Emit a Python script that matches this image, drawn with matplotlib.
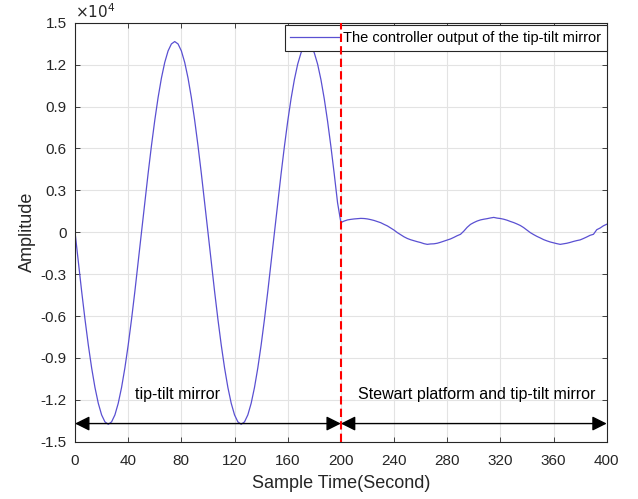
import numpy as np
import matplotlib.pyplot as plt
from matplotlib.ticker import FuncFormatter

plt.rcParams['font.family'] = ['Liberation Sans', 'DejaVu Sans']
plt.rcParams['axes.unicode_minus'] = False

# tip-tilt mirror only (0-200 s), read every 2.5 s
time_tt = np.arange(0, 200, 2.5)
amp_tt = [0, -2150, -4250, -6240, -8080, -9720, -11120, -12250, -13080, -13580, -13750,
          -13580, -13080, -12250, -11120, -9720, -8080, -6240, -4250, -2150, 0,
          2130, 4220, 6200, 8020, 9650, 11040, 12160, 12980, 13480, 13650,
          13480, 12980, 12160, 11040, 9650, 8020, 6200, 4220, 2130, 0,
          -2150, -4250, -6240, -8080, -9720, -11120, -12250, -13080, -13580, -13750,
          -13580, -13080, -12250, -11120, -9720, -8080, -6240, -4250, -2150, 0,
          2110, 4170, 6130, 7940, 9550, 10920, 12030, 12840, 13340, 13500,
          13340, 12840, 12030, 10920, 9550, 7940, 6130, 4170, 2110]

# Stewart platform + tip-tilt mirror (200-400 s), read every 2.5 s
time_sp = np.arange(200, 400.1, 2.5)
amp_sp = [690, 800, 880, 920, 950, 970, 990, 980, 950, 900,
          840, 760, 680, 560, 450, 300, 150,
          -30, -180, -330, -450, -540, -610, -680, -740,
          -820, -870, -840, -830, -790, -720, -640, -560,
          -480, -370, -250, -150, 80, 350, 560, 690,
          800, 880, 930, 970, 1020, 1060, 1010, 980,
          930, 860, 770, 690, 590, 480, 330, 150,
          -30, -170, -300, -410, -530, -620, -700, -760,
          -820, -870, -830, -790, -730, -660, -600, -550,
          -450, -340, -220, -150, 180, 300, 460, 570]

xticks = np.arange(0, 401, 40)
yticks = np.arange(-15000, 15001, 3000)

time = np.concatenate([time_tt, time_sp])
amp = np.concatenate([amp_tt, amp_sp])

fig = plt.figure(figsize=(6.38, 4.99), dpi=100)
ax = fig.add_axes([0.1176, 0.1148, 0.8334, 0.8397])

ax.plot(time, amp, color='#5a50d2', lw=0.9,
        label='The controller output of the tip-tilt mirror')
ax.axvline(200, color='#ff0000', lw=1.5, ls=(0, (4, 2)), zorder=6)

ax.set_xlim(0, 400)
ax.set_ylim(-15000, 15000)
ax.set_xticks(xticks)
ax.set_yticks(yticks)
ax.yaxis.set_major_formatter(FuncFormatter(lambda v, p: '%g' % (v / 1e4)))
ax.text(0, 1.003, r'$\times10^{4}$', transform=ax.transAxes, ha='left', va='bottom',
        fontsize=11, color='#262626')

ax.grid(True, color='#e3e3e3', lw=0.8)
ax.set_axisbelow(True)
for s in ax.spines.values():
    s.set_color('#262626')
    s.set_linewidth(0.8)
ax.tick_params(direction='in', top=True, right=True, length=3.5, width=0.6,
               labelsize=11, colors='#262626')
ax.tick_params(axis='x', pad=9)
ax.tick_params(axis='y', pad=6)

ax.set_xlabel('Sample Time(Second)', fontsize=13, color='#262626', labelpad=5)
ax.set_ylabel('Amplitude', fontsize=13, color='#262626', labelpad=3)

# double arrows for the two stages
arrow_y = -13700
aprops = dict(arrowstyle='<|-|>', color='black', lw=1.0, mutation_scale=22,
              shrinkA=0, shrinkB=0)
ax.annotate('', xy=(0, arrow_y), xytext=(200, arrow_y), arrowprops=aprops)
ax.annotate('', xy=(200, arrow_y), xytext=(400, arrow_y), arrowprops=aprops)
ax.text(77, -11600, 'tip-tilt mirror', ha='center', va='center', fontsize=11.5)
ax.text(302, -11600, 'Stewart platform and tip-tilt mirror', ha='center', va='center',
        fontsize=11.5)

leg = ax.legend(loc='upper right', bbox_to_anchor=(1.0, 0.994), borderaxespad=0,
                fancybox=False, framealpha=1, edgecolor='#262626', fontsize=10.5,
                handlelength=3.3, handletextpad=0.3, borderpad=0.4)
leg.get_frame().set_linewidth(0.8)

fig.savefig('out.png', dpi=100)
